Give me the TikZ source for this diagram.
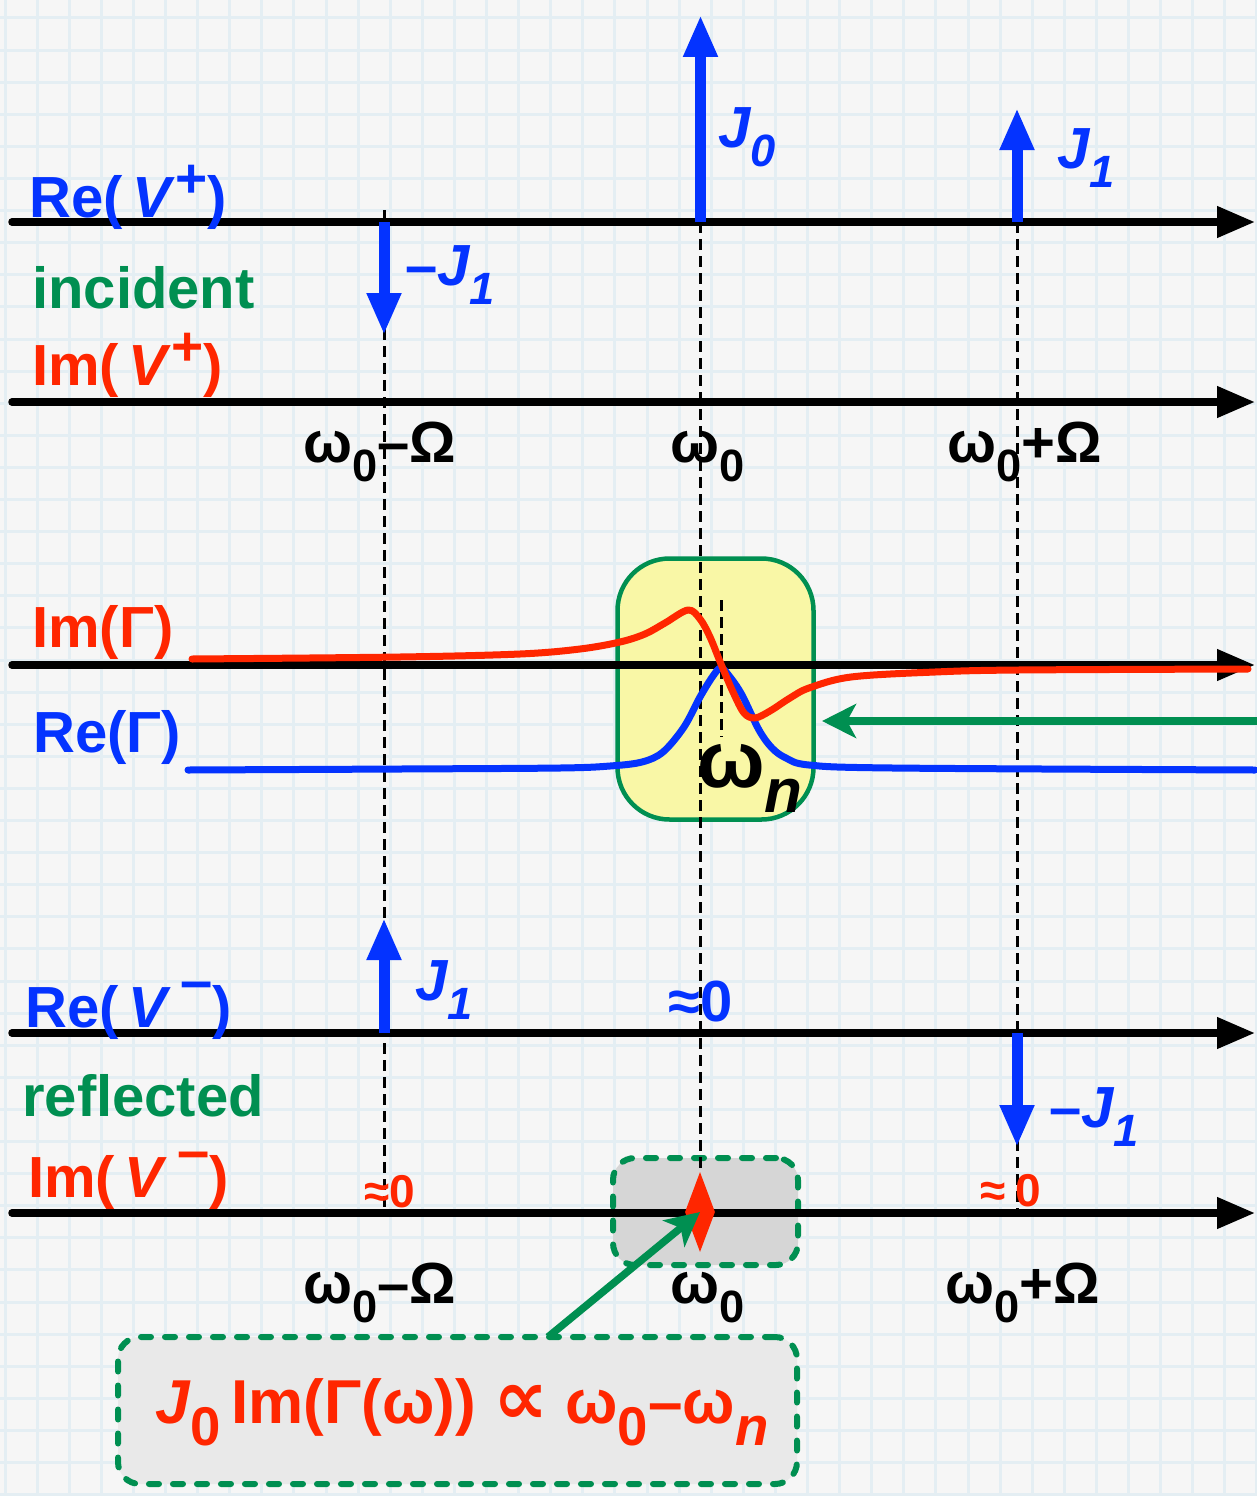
\documentclass[tikz,border=0pt]{standalone}
\usepackage{fontspec}
\usepackage{graphicx}
\setmainfont{Liberation Sans}
\newfontfamily\djvfont{DejaVu Sans}
\usetikzlibrary{arrows.meta,shapes.geometric}
\definecolor{kblue}{RGB}{4,51,255}
\definecolor{kred}{RGB}{255,38,0}
\definecolor{kgreen}{RGB}{0,143,81}
\definecolor{kyellow}{RGB}{249,247,166}
\definecolor{gridc}{RGB}{228,238,243}
\definecolor{bgc}{RGB}{246,246,246}
\definecolor{grayfill}{RGB}{214,214,214}
\definecolor{formfill}{RGB}{233,233,233}
\newcommand\mysub[1]{\raisebox{-0.33em}{\scalebox{0.78}{#1}}}
\newcommand\mybigsub[1]{\raisebox{-0.36em}{\scalebox{0.88}{#1}}}
\newcommand\mysup[1]{\raisebox{0.33em}{\scalebox{0.95}{#1}}}
\newcommand\mybar{\raisebox{0.45em}{–}}
\tikzset{
  lab/.style={inner sep=0pt, anchor=base west, font=\fontsize{58}{60}\selectfont\bfseries},
  smalllab/.style={inner sep=0pt, anchor=base west, font=\fontsize{46}{48}\selectfont\bfseries},
  axisline/.style={line width=7.5pt, line cap=round, -{Triangle[length=38pt,width=30pt]}},
  jarrow/.style={kblue, line width=11pt, -{Triangle[length=42pt,width=32pt]}},
  vdash/.style={line width=3pt, dash pattern=on 11pt off 6pt},
  garrow/.style={kgreen, line width=7.5pt, -{Stealth[length=34pt,width=34pt,inset=9pt]}},
  boxdash/.style={draw=kgreen, line width=6pt, dash pattern=on 10pt off 14pt, line cap=round},
  curve/.style={line width=7pt, line cap=round, line join=round}
}
\begin{document}
\begin{tikzpicture}[x=1pt,y=-1pt]
\useasboundingbox (0,0) rectangle (1257,1496);
\fill[bgc] (0,0) rectangle (1257,1496);
\foreach \i in {0,...,39} \draw[gridc, line width=3pt] ({5+32.1*\i},0) -- ({5+32.1*\i},1496);
\foreach \i in {0,...,46} \draw[gridc, line width=3pt] (0,{18+32.1*\i}) -- (1257,{18+32.1*\i});

% boxes
\node[draw=kgreen, fill=kyellow, line width=4.5pt, rounded corners=52pt, minimum width=196pt, minimum height=261pt, inner sep=0pt] (ybox) at (715.5,689) {};
\node[boxdash, fill=grayfill, rounded corners=22pt, minimum width=185pt, minimum height=107pt, inner sep=0pt] (gbox) at (705.5,1211.5) {};
\node[boxdash, fill=formfill, rounded corners=22pt, minimum width=679pt, minimum height=147pt, inner sep=0pt] (fbox) at (457.5,1410.5) {};

% coordinates
\coordinate (L1) at (12,222);  \coordinate (R1) at (1255,222);
\coordinate (L2) at (12,402);  \coordinate (R2) at (1255,402);
\coordinate (L3) at (12,665);  \coordinate (R3) at (1255,665);
\coordinate (L4) at (12,1033); \coordinate (R4) at (1255,1033);
\coordinate (L5) at (12,1213); \coordinate (R5) at (1255,1213);

% dashed guides
\coordinate (dA1) at (384,210);  \coordinate (dA2) at (384,1212);
\coordinate (dB1) at (700,222);  \coordinate (dB2) at (700,1174);
\coordinate (dC1) at (1017,222); \coordinate (dC2) at (1017,1212);
\coordinate (dN1) at (721,600);  \coordinate (dN2) at (721,737);
\draw[vdash] (dA1) -- (dA2);
\draw[vdash] (dB1) -- (dB2);
\draw[vdash] (dC1) -- (dC2);
\draw[vdash] (dN1) -- (dN2);

% axes
\draw[axisline] (L1) -- (R1);
\draw[axisline] (L2) -- (R2);
\draw[axisline] (L3) -- (R3);
\draw[axisline] (L4) -- (R4);
\draw[axisline] (L5) -- (R5);

% curves
\draw[curve, kblue] plot[smooth, tension=0.55] coordinates {(188,770) (400,769) (560,768) (610,766) (642,762) (663,752) (684,727) (700,697) (713,676) (721,668) (730,677) (742,695) (759,730) (772,748) (786,758) (809,765) (893,768) (1255,770)};
\draw[curve, kred] plot[smooth, tension=0.55] coordinates {(192,659) (400,657) (520,654) (580,649) (620,642) (645,634) (665,623) (688,610) (700,619) (710,637) (721,664) (733,692) (744,713) (755,718) (770,711) (790,698) (809,688) (851,677) (935,672) (1018,670) (1248,669)};

% blue arrows
\coordinate (j0a) at (700.5,222); \coordinate (j0b) at (700.5,15);
\coordinate (j1a) at (1017,222);  \coordinate (j1b) at (1017,108);
\coordinate (mj1a) at (384,222);  \coordinate (mj1b) at (384,335);
\coordinate (rj1a) at (384,1033); \coordinate (rj1b) at (384,918);
\coordinate (rmja) at (1017,1033); \coordinate (rmjb) at (1017,1147);
\draw[jarrow] (j0a) -- (j0b);
\draw[jarrow] (j1a) -- (j1b);
\draw[jarrow] (mj1a) -- (mj1b);
\draw[jarrow] (rj1a) -- (rj1b);
\draw[jarrow] (rmja) -- (rmjb);

% red diamond and green arrows
\node[diamond, fill=kred, inner sep=0pt, minimum width=30pt, minimum height=80pt] (dia) at (700,1212) {};
\coordinate (gs) at (1257,721); \coordinate (ge) at (822,721);
\draw[garrow] (gs) -- (ge);
\coordinate (fs) at (548,1337);
\draw[garrow] (fs) -- (dia.center);

% labels top
\node[lab, text=kblue] (reVp) at (29,217) {Re(\,\textit{V}\mysup{+})};
\node[lab, text=kgreen] (inc) at (32,308) {incident};
\node[lab, text=kred] (imVp) at (32,385) {Im(\,\textit{V}\mysup{+})};
\node[lab, text=kblue] (tJ0) at (718,147) {\itshape J\mysub{0}};
\node[lab, text=kblue] (tJ1) at (1057,168) {\itshape J\mysub{1}};
\node[lab, text=kblue] (tmJ1) at (405,285) {–\itshape J\mysub{1}};
\node[lab] (w1) at (303,462) {ω\mysub{0}–Ω};
\node[lab] (w2) at (670,462) {ω\mysub{0}};
\node[lab] (w3) at (947,462) {ω\mysub{0}+Ω};

% middle
\node[lab, text=kred] (imG) at (32,647) {Im(Γ)};
\node[lab, text=kblue] (reG) at (33,752) {Re(Γ)};
\node[inner sep=0pt, anchor=base west, font=\fontsize{80}{80}\selectfont\bfseries] (wn) at (697,787) {ω\raisebox{-25pt}{\fontsize{62}{62}\selectfont\itshape n}};

% bottom
\node[lab, text=kblue] (reVm) at (25,1027) {Re(\,\textit{V}\,\mybar)};
\node[lab, text=kgreen] (refl) at (22,1116) {reflected};
\node[lab, text=kred] (imVm) at (28,1197) {Im(\,\textit{V}\,\mybar)};
\node[lab, text=kblue] (bJ1) at (415,1000) {\itshape J\mysub{1}};
\node[lab, text=kblue] (bmJ1) at (1049,1127) {–\itshape J\mysub{1}};
\node[lab, text=kblue] (z0) at (668,1021) {≈0};
\node[smalllab, text=kred] (zl) at (364,1207) {≈0};
\node[smalllab, text=kred] (zr) at (980,1206) {≈\hspace{10pt}0};
\node[lab] (b1) at (303,1303) {ω\mysub{0}–Ω};
\node[lab] (b2) at (670,1303) {ω\mysub{0}};
\node[lab] (b3) at (945,1303) {ω\mysub{0}+Ω};
\node[lab, text=kred, font=\fontsize{62}{64}\selectfont\bfseries] (form) at (155,1423) {\textit{J}\mybigsub{0}\,Im(Γ(ω)) \raisebox{-0.02em}{\scalebox{1.25}{\djvfont\bfseries ∝}} ω\mybigsub{0}–ω\mybigsub{\itshape n}};
\end{tikzpicture}
\end{document}
